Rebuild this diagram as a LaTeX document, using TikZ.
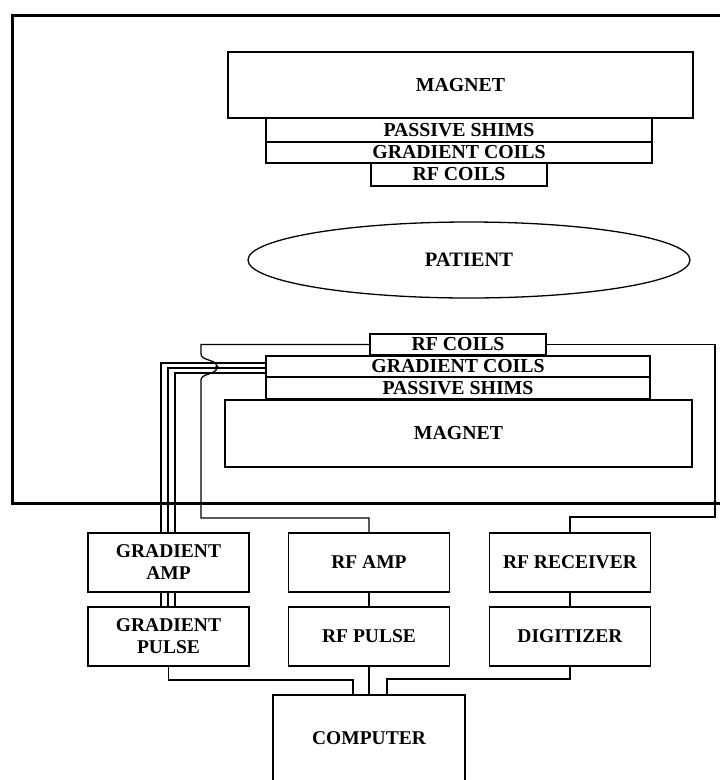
\documentclass[tikz,border=0pt]{standalone}
\usepackage{fontspec}
\setmainfont{Liberation Serif}
\usetikzlibrary{shapes.geometric,calc}
\begin{document}
\begin{tikzpicture}[x=1pt,y=-1pt,line width=1.3pt,
  lbl/.style={font=\fontsize{19.5}{22}\selectfont\bfseries},
  box/.style={draw,inner sep=0pt,align=center,lbl},
  coil/.style={box,font=\fontsize{19.8}{20}\selectfont\bfseries},
  unit/.style={box,minimum width=161pt,minimum height=59pt},
  frameline/.style={line width=3pt},
  wire/.style={line width=1.3pt}]
\useasboundingbox (0,0) rectangle (720,780);
% outer frame
\draw[frameline] (720,15) -- (12,15) -- (12,503) -- (720,503);
% upper stack
\node[coil,minimum width=465pt,minimum height=66pt] (magU) at (460.5,85) {MAGNET};
\node[coil,minimum width=386pt,minimum height=24pt] (shimU) at (459,130) {PASSIVE SHIMS};
\node[coil,minimum width=386pt,minimum height=21pt] (gradU) at (459,152.5) {GRADIENT COILS};
\node[coil,minimum width=176pt,minimum height=23pt] (rfU) at (459,174.5) {RF COILS};
% patient
\node[draw,ellipse,inner sep=0pt,minimum width=442pt,minimum height=76pt,font=\fontsize{20.5}{22}\selectfont\bfseries] (patient) at (469,260) {PATIENT};
% lower stack
\node[coil,minimum width=176pt,minimum height=21pt] (rfL) at (458,344.5) {RF COILS};
\node[coil,minimum width=384pt,minimum height=21pt] (gradL) at (458,366.5) {GRADIENT COILS};
\node[coil,minimum width=384pt,minimum height=22pt] (shimL) at (458,388) {PASSIVE SHIMS};
\node[coil,minimum width=467pt,minimum height=67pt] (magL) at (458.5,433.5) {MAGNET};
% electronics
\node[unit] (gamp) at (168.5,562.5) {GRADIENT\\AMP};
\node[unit] (gpulse) at (168.5,636.5) {GRADIENT\\PULSE};
\node[unit] (rfamp) at (369,562.5) {RF AMP};
\node[unit] (rfpulse) at (369,636.5) {RF PULSE};
\node[unit] (rx) at (570,562.5) {RF RECEIVER};
\node[unit] (dig) at (570,636.5) {DIGITIZER};
\node[box,minimum width=192pt,minimum height=86pt] (computer) at (369,738) {COMPUTER};
% gradient wires
\coordinate (g1) at (161,533);
\coordinate (g2) at (168,533);
\coordinate (g3) at (175,533);
\draw[wire] ([yshift=3.5pt]gradL.west) -| (g1);
\draw[wire] ([yshift=-1.5pt]gradL.west) -| (g2);
\draw[wire] ([yshift=-6.5pt]gradL.west) -| (g3);
\draw[wire] (gamp.south -| g1) -- (gpulse.north -| g1);
\draw[wire] (gamp.south -| g2) -- (gpulse.north -| g2);
\draw[wire] (gamp.south -| g3) -- (gpulse.north -| g3);
% RF transmit wire with crossover
\coordinate (ra1) at (201,518);
\draw[wire] (rfamp.north) |- (ra1) -- (201,380)
  .. controls (201,373) and (217,375) .. (217,367)
  .. controls (217,359) and (201,361) .. (201,354) |- (rfL.west);
\fill (217,367) circle (1.8pt);
% RF receive wire
\coordinate (rx1) at (715,517);
\draw[wire] (rx.north) |- (rx1) |- (rfL.east);
\fill (715,503) circle (2pt);
% chain links
\draw[wire] (rfamp) -- (rfpulse);
\draw[wire] (rx) -- (dig);
% to computer
\coordinate (c1) at (353,680);
\coordinate (c3) at (387,679);
\draw[wire] (gpulse.south) |- (c1) -- (c1 |- computer.north);
\draw[wire] (rfpulse) -- (computer);
\draw[wire] (dig.south) |- (c3) -- (c3 |- computer.north);
\end{tikzpicture}
\end{document}
